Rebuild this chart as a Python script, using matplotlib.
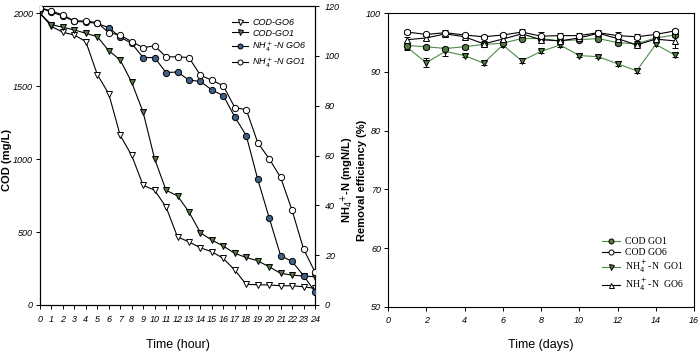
import matplotlib
matplotlib.use("Agg")
import matplotlib.pyplot as plt
from matplotlib.lines import Line2D
import logging
logging.getLogger("matplotlib.font_manager").setLevel(logging.ERROR)

# ---------------- data: left panel (hours) ----------------
hours = list(range(0, 25))
cod_go6 = [2000, 1910, 1870, 1851, 1806, 1580, 1448, 1163, 1026, 821, 787, 672, 467, 433,
           392, 365, 319, 239, 141, 139, 137, 132, 132, 125, 114]
cod_go1 = [2000, 1922, 1904, 1886, 1863, 1840, 1744, 1680, 1527, 1322, 1003, 787, 748, 638,
           495, 445, 404, 354, 326, 303, 262, 217, 205, 198, 194]
nh4_go6 = [119.3, 117.5, 116.0, 113.8, 113.6, 113.0, 111.3, 107.5, 105.0, 99.3, 99.3, 93.3,
           93.5, 90.3, 89.7, 86.3, 84.0, 75.5, 68.0, 50.5, 35.0, 19.8, 17.5, 11.8, 5.3]
nh4_go1 = [119.3, 118.0, 116.4, 114.0, 114.0, 113.3, 109.3, 108.3, 105.7, 103.3, 104.0, 99.6,
           99.6, 99.3, 92.2, 90.2, 88.0, 79.2, 78.4, 65.2, 58.7, 51.2, 38.0, 22.5, 13.2]
hour_ticks = list(range(0, 25))
cod_ticks = [0, 500, 1000, 1500, 2000]
nh4_ticks = [0, 20, 40, 60, 80, 100, 120]

# ---------------- data: right panel (days) ----------------
days = list(range(1, 16))
eff_cod_go1 = [94.5, 94.3, 94.0, 94.3, 94.7, 94.9, 95.7, 95.7, 95.3, 95.5, 95.7, 95.0, 94.8, 95.8, 96.3]
eff_cod_go6 = [96.8, 96.4, 96.7, 96.3, 96.0, 96.3, 96.8, 96.1, 96.2, 96.2, 96.7, 96.2, 96.0, 96.4, 97.0]
eff_nh4_go1 = [94.2, 91.6, 93.5, 92.8, 91.5, 94.6, 91.9, 93.5, 94.6, 92.8, 92.6, 91.4, 90.2, 94.7, 92.9]
eff_nh4_go6 = [95.5, 95.8, 96.5, 96.0, 94.8, 95.6, 96.5, 95.5, 95.3, 95.8, 96.6, 95.7, 94.6, 95.6, 95.3]
err_cod_go1 = [0.5, 0.3, 0.3, 0.3, 0.4, 0.3, 0.3, 0.3, 0.3, 0.3, 0.3, 0.4, 0.4, 0.3, 0.3]
err_cod_go6 = [0.3, 0.3, 0.5, 0.4, 0.3, 0.4, 0.6, 0.7, 0.4, 0.4, 0.4, 0.6, 0.4, 0.4, 0.4]
err_nh4_go1 = [0.4, 0.8, 0.7, 0.3, 0.3, 0.3, 0.4, 0.3, 0.3, 0.3, 0.3, 0.4, 0.3, 0.3, 0.4]
err_nh4_go6 = [0.4, 0.4, 0.4, 0.4, 0.5, 0.4, 0.5, 0.6, 0.5, 0.5, 0.4, 0.5, 0.4, 0.4, 1.2]
day_ticks = [0, 2, 4, 6, 8, 10, 12, 14, 16]
eff_ticks = [50, 60, 70, 80, 90, 100]

GREEN = "#557a45"
GREEN_LINE = "#4f8a4a"
BLUE = "#3f6189"
NARROW = ["Liberation Sans Narrow", "Liberation Sans", "DejaVu Sans"]
SANS = ["Liberation Sans", "DejaVu Sans"]
SERIF = ["Liberation Serif", "DejaVu Serif"]
W, H = 699, 360

fig = plt.figure(figsize=(6.99, 3.60), dpi=100)

# ================= left panel =================
ax = fig.add_axes([40 / W, 1 - 305 / H, 275 / W, 299 / H])
ax2 = ax.twinx()
ms = 4.5
kw = dict(color="black", lw=0.8, markersize=ms, markeredgewidth=0.7, markeredgecolor="black")
l1, = ax.plot(hours, cod_go6, marker="v", markerfacecolor="white", zorder=3, **kw)
l2, = ax.plot(hours, cod_go1, marker="v", markerfacecolor=GREEN, zorder=3, **kw)
l3, = ax2.plot(hours, nh4_go6, marker="o", markerfacecolor=BLUE, zorder=3, **kw)
l4, = ax2.plot(hours, nh4_go1, marker="o", markerfacecolor="white", zorder=3, **kw)

ax.set_xlim(0, 24)
ax.set_ylim(0, 2050)
ax2.set_ylim(0, 120)
ax.set_xticks(hour_ticks)
ax.set_yticks(cod_ticks)
ax2.set_yticks(nh4_ticks)
for a in (ax, ax2):
    a.tick_params(direction="out", length=3, width=0.7, labelsize=6.5, pad=2)
    for s in a.spines.values():
        s.set_linewidth(0.8)
ax.tick_params(axis="x", labelsize=6.5, pad=4)
ax.tick_params(axis="y", pad=2)
ax2.tick_params(axis="y", pad=4)
for lab in ax.get_xticklabels() + ax.get_yticklabels() + ax2.get_yticklabels():
    lab.set_fontstyle("italic")
    lab.set_family(NARROW)

fig.text(178 / W, 1 - 345 / H, "Time (hour)", fontsize=9, family=NARROW, ha="center", va="center")
fig.text(7 / W, 1 - 160 / H, "COD (mg/L)", fontsize=8, fontweight="bold", family=SANS,
         rotation=90, ha="center", va="center")
fig.text(347 / W, 1 - 180 / H, r"NH$_4$$^{+}$-N (mgN/L)", fontsize=8, fontweight="bold",
         family=SANS, rotation=90, ha="center", va="center")

ax.legend([l1, l2, l3, l4],
          ["COD-GO6", "COD-GO1", r"NH$_4^+$-N GO6", r"NH$_4^+$-N GO1"],
          loc="upper right", bbox_to_anchor=(0.995, 0.985), frameon=False,
          prop=dict(family=NARROW, style="italic", size=6.5), handlelength=1.8,
          labelspacing=0.2, borderpad=0.3, markerscale=0.8, handletextpad=0.5)

# ================= right panel =================
bx = fig.add_axes([388 / W, 1 - 306.7 / H, 306 / W, 293.4 / H])
ekw = dict(lw=0.8, markersize=ms, markeredgewidth=0.7, markeredgecolor="black",
           capsize=2.5, elinewidth=0.7, ecolor="black")
bx.errorbar(days, eff_nh4_go1, yerr=err_nh4_go1, marker="v", color=GREEN_LINE,
            markerfacecolor=GREEN, zorder=3, **ekw)
bx.errorbar(days, eff_cod_go1, yerr=err_cod_go1, marker="o", color=GREEN_LINE,
            markerfacecolor=GREEN, zorder=3, **ekw)
bx.errorbar(days, eff_nh4_go6, yerr=err_nh4_go6, marker="^", color="black",
            markerfacecolor="white", zorder=4, **ekw)
bx.errorbar(days, eff_cod_go6, yerr=err_cod_go6, marker="o", color="black",
            markerfacecolor="white", zorder=4, **ekw)

bx.set_xlim(0, 16)
bx.set_ylim(50, 100)
bx.set_xticks(day_ticks)
bx.set_yticks(eff_ticks)
bx.tick_params(direction="out", length=3, width=0.7, labelsize=6.5, pad=2)
bx.tick_params(axis="x", pad=4)
for s in bx.spines.values():
    s.set_linewidth(0.8)
for lab in bx.get_xticklabels() + bx.get_yticklabels():
    lab.set_fontstyle("italic")
    lab.set_family(NARROW)
fig.text(541 / W, 1 - 345 / H, "Time (days)", fontsize=9, family=NARROW, ha="center", va="center")
fig.text(362 / W, 1 - 180 / H, "Removal efficiency (%)", fontsize=8, fontweight="bold",
         family=SANS, rotation=90, ha="center", va="center")

h1 = Line2D([], [], color=GREEN_LINE, marker="o", markerfacecolor=GREEN, markeredgecolor="black",
            markersize=ms, markeredgewidth=0.7, lw=0.8)
h2 = Line2D([], [], color="black", marker="o", markerfacecolor="white", markeredgecolor="black",
            markersize=ms, markeredgewidth=0.7, lw=0.8)
h3 = Line2D([], [], color=GREEN_LINE, marker="v", markerfacecolor=GREEN, markeredgecolor="black",
            markersize=ms, markeredgewidth=0.7, lw=0.8)
h4 = Line2D([], [], color="black", marker="^", markerfacecolor="white", markeredgecolor="black",
            markersize=ms, markeredgewidth=0.7, lw=0.8)
bx.legend([h1, h2, h3, h4],
          ["COD GO1", "COD GO6", r"NH$_4^+$-N  GO1", r"NH$_4^+$-N  GO6"],
          loc="lower right", bbox_to_anchor=(0.99, 0.02), frameon=False,
          prop=dict(family=SERIF, size=7), handlelength=1.8,
          labelspacing=0.2, borderpad=0.3, markerscale=0.8, handletextpad=0.5)

fig.savefig("out.png", dpi=100)
